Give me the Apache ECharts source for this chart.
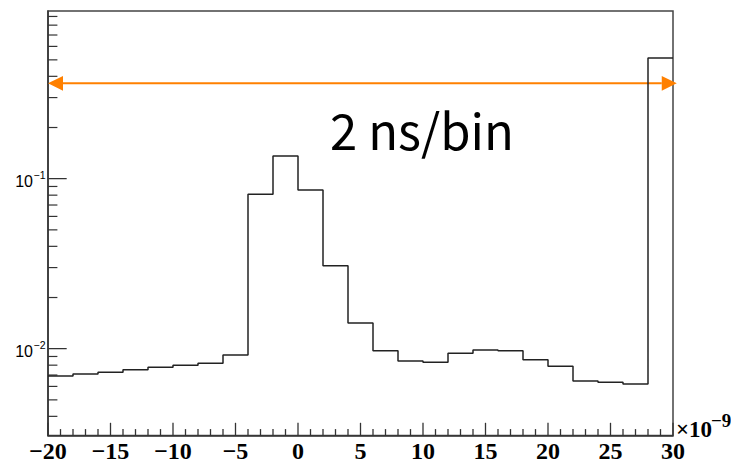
<!DOCTYPE html>
<html>
<head>
<meta charset="utf-8">
<script src="https://cdn.jsdelivr.net/npm/echarts@6/dist/echarts.min.js"></script>
<style>
  html, body { margin: 0; padding: 0; background: #fff; }
  #chart { width: 731px; height: 463px; }
</style>
</head>
<body>
<div id="chart"></div>
<script>
// ---- data ----
const binLowEdges = [-20, -18, -16, -14, -12, -10, -8, -6, -4, -2, 0, 2, 4, 6, 8, 10, 12, 14, 16, 18, 20, 22, 24, 26, 28];
const binContents = [0.00691, 0.00710, 0.00726, 0.00752, 0.00777, 0.00798, 0.00820, 0.00918, 0.0810, 0.1360, 0.0858, 0.0307, 0.01416, 0.00973, 0.00846, 0.00832, 0.00940, 0.00983, 0.00973, 0.00862, 0.00788, 0.00646, 0.00634, 0.00620, 0.513];
const histUpEdge = 30;

const xMin = -20, xMax = 30;
const xTickValues = [-20, -15, -10, -5, 0, 5, 10, 15, 20, 25, 30];
const xTickLabels = ['\u221220', '\u221215', '\u221210', '\u22125', '0', '5', '10', '15', '20', '25', '30'];
const xMinorTicks = [-19, -18, -17, -16, -14, -13, -12, -11, -9, -8, -7, -6, -4, -3, -2, -1,
                     1, 2, 3, 4, 6, 7, 8, 9, 11, 12, 13, 14, 16, 17, 18, 19, 21, 22, 23, 24, 26, 27, 28, 29];
const xMultiplierBase = '\u00d710';
const xMultiplierExp = '\u22129';

const yMin = 0.003086, yMax = 0.969;
const yMajorTicks = [0.01, 0.1];
const yMajorExponents = ['\u22122', '\u22121'];
const yMinorTicks = [0.004, 0.005, 0.006, 0.007, 0.008, 0.009,
                     0.02, 0.03, 0.04, 0.05, 0.06, 0.07, 0.08, 0.09,
                     0.2, 0.3, 0.4, 0.5, 0.6, 0.7, 0.8, 0.9];

const arrowX = [-20, 30.3];
const arrowY = 0.364;
const annotationText = '2 ns/bin';

// ---- build ----
const histPoints = binLowEdges.map((e, i) => [e, binContents[i]]);
histPoints.push([histUpEdge, binContents[binContents.length - 1]]);

const yTickData = yMajorTicks.map((v, i) => [xMin, v, 1, i])
  .concat(yMinorTicks.map(v => [xMin, v, 0, -1]));

const chart = echarts.init(document.getElementById('chart'), null, { renderer: 'svg' });

const AXIS_COLOR = '#333';
const MAJOR_X_LEN = 12.7, MINOR_X_LEN = 6.4;

chart.setOption({
  animation: false,
  backgroundColor: '#fff',
  grid: {
    left: 48, right: 58, top: 11, bottom: 27.5,
    show: true, borderColor: '#444', borderWidth: 1.5, backgroundColor: 'transparent'
  },
  xAxis: {
    type: 'value', min: xMin, max: xMax, interval: 5,
    axisLine: { show: true, onZero: false, lineStyle: { color: AXIS_COLOR, width: 1.5 } },
    axisTick: { show: false },
    minorTick: { show: false },
    splitLine: { show: false },
    axisLabel: {
      margin: 15.5, verticalAlign: 'middle',
      fontFamily: 'Liberation Serif', fontWeight: 'bold', fontSize: 24, color: '#000',
      formatter: v => { const k = xTickValues.indexOf(Math.round(v)); return k >= 0 ? xTickLabels[k] : ''; }
    }
  },
  yAxis: {
    type: 'log', logBase: 10, min: yMin, max: yMax,
    axisLine: { show: true, onZero: false, lineStyle: { color: AXIS_COLOR, width: 1.5 } },
    axisTick: { show: false },
    axisLabel: { show: false },
    splitLine: { show: false }
  },
  graphic: [
    { type: 'text', x: 330, y: 128, silent: true,
      style: { text: annotationText, fontFamily: 'Noto Sans CJK JP', fontSize: 49, fill: '#000', align: 'left', verticalAlign: 'middle' } },
    { type: 'text', x: 676, y: 429.5, silent: true,
      style: { text: xMultiplierBase, fontFamily: 'Liberation Serif', fontWeight: 'bold', fontSize: 23, fill: '#000', align: 'left', verticalAlign: 'middle' } },
    { type: 'text', x: 711, y: 420, silent: true,
      style: { text: xMultiplierExp, fontFamily: 'Liberation Serif', fontWeight: 'bold', fontSize: 19, fill: '#000', align: 'left', verticalAlign: 'middle' } }
  ],
  series: [
    {
      type: 'line', data: histPoints, step: 'end', showSymbol: false, symbol: 'none',
      lineStyle: { color: '#222', width: 1.5 }, clip: true, silent: true
    },
    {
      // x-axis major ticks
      type: 'scatter', data: xTickValues.map(v => [v, yMin]), clip: false, silent: true, z: 10,
      symbol: 'rect', symbolSize: [1.3, MAJOR_X_LEN], symbolOffset: [0, -MAJOR_X_LEN / 2],
      itemStyle: { color: AXIS_COLOR, opacity: 1 }
    },
    {
      // x-axis minor ticks
      type: 'scatter', data: xMinorTicks.map(v => [v, yMin]), clip: false, silent: true, z: 10,
      symbol: 'rect', symbolSize: [1.3, MINOR_X_LEN], symbolOffset: [0, -MINOR_X_LEN / 2],
      itemStyle: { color: AXIS_COLOR, opacity: 1 }
    },
    {
      type: 'custom', data: yTickData, clip: false, silent: true,
      encode: { x: 0, y: 1 },
      renderItem: (params, api) => {
        const p = api.coord([api.value(0), api.value(1)]);
        const major = api.value(2) === 1;
        const len = major ? 18.7 : 9.4;
        const children = [{
          type: 'rect',
          shape: { x: p[0], y: p[1] - 0.6, width: len, height: 1.2 },
          style: { fill: AXIS_COLOR }
        }];
        if (major) {
          const idx = api.value(3);
          children.push({
            type: 'text', x: p[0] - 15, y: p[1] + 2.5,
            style: { text: '10', fontFamily: 'Liberation Sans', fontSize: 16, fill: '#000', align: 'right', verticalAlign: 'middle' }
          });
          children.push({
            type: 'text', x: p[0] - 14.5, y: p[1] - 4,
            style: { text: yMajorExponents[idx], fontFamily: 'Liberation Sans', fontSize: 10.5, fill: '#000', align: 'left', verticalAlign: 'middle' }
          });
        }
        return { type: 'group', children };
      }
    },
    {
      type: 'custom', data: [[arrowX[0], arrowX[1], arrowY]], clip: false, silent: true,
      encode: { x: [0, 1], y: 2 },
      renderItem: (params, api) => {
        const a = api.coord([api.value(0), api.value(2)]);
        const b = api.coord([api.value(1), api.value(2)]);
        const hl = 15, hw = 7.4, col = '#ff8000';
        return {
          type: 'group',
          children: [
            { type: 'line', shape: { x1: a[0] + hl, y1: a[1], x2: b[0] - hl, y2: b[1] }, style: { stroke: col, lineWidth: 2 } },
            { type: 'polygon', shape: { points: [[a[0], a[1]], [a[0] + hl, a[1] - hw], [a[0] + hl, a[1] + hw]] }, style: { fill: col } },
            { type: 'polygon', shape: { points: [[b[0], b[1]], [b[0] - hl, b[1] - hw], [b[0] - hl, b[1] + hw]] }, style: { fill: col } }
          ]
        };
      }
    }
  ]
});
</script>
</body>
</html>
